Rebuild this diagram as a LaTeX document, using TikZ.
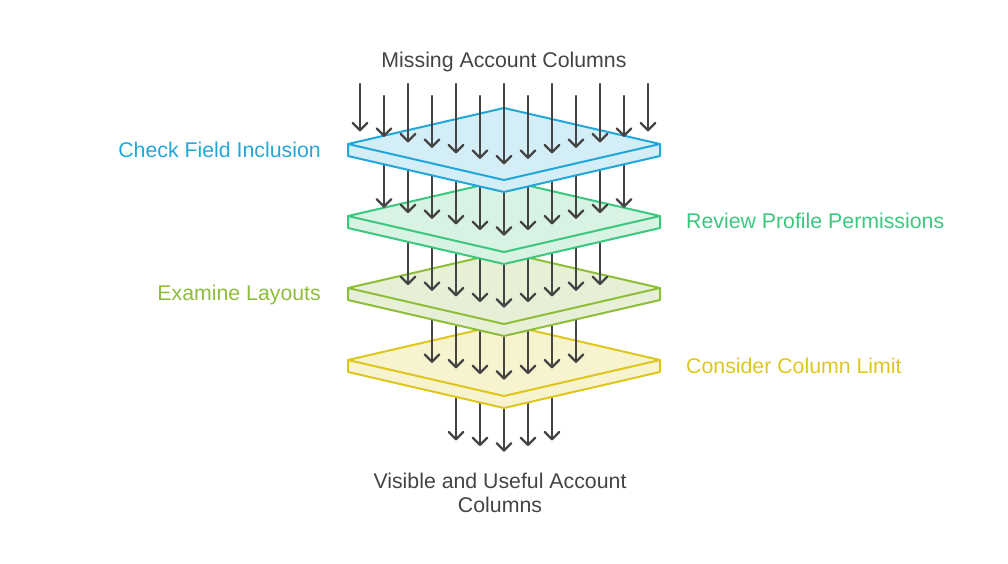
\documentclass[tikz,border=0pt]{standalone}
\usepackage{fontspec}
\setmainfont{Liberation Sans}
\definecolor{ink}{HTML}{444444}
\definecolor{bstroke}{HTML}{22A7DA}
\definecolor{bfill}{HTML}{D4EEF8}
\definecolor{gstroke}{HTML}{3CC77E}
\definecolor{gfill}{HTML}{D8F2E3}
\definecolor{ostroke}{HTML}{8DBE3A}
\definecolor{ofill}{HTML}{E7F0D6}
\definecolor{ystroke}{HTML}{DEC71C}
\definecolor{yfill}{HTML}{F8F3CF}
\tikzset{
  layerline/.style={line width=2bp, line join=round},
  flow/.style={draw=ink, line width=2.3bp, line cap=round, line join=round},
  lbl/.style={font=\fontsize{21.3bp}{24bp}\selectfont, inner sep=0pt},
}
\newcommand{\mylayer}[3]{%
  \filldraw[layerline, draw=#2, fill=#3] (348,#1) -- (504,#1-36) -- (660,#1) -- (660,#1+12) -- (504,#1+48) -- (348,#1+12) -- cycle;
  \draw[layerline, draw=#2] (348,#1) -- (504,#1+36) -- (660,#1);
}
\newcommand{\myarrow}[3]{%
  \draw[flow] (#1,#2) -- (#1,#3);
  \draw[flow] (#1-7.3,#3-7.3) -- (#1,#3) -- (#1+7.3,#3-7.3);
}
\begin{document}
\begin{tikzpicture}[x=1bp,y=-1bp]
\useasboundingbox (0,0) rectangle (1008,564);
% exit arrows
\foreach \k in {-2,...,2}{
  \pgfmathsetmacro\xx{504+24*\k}
  \pgfmathsetmacro\ty{162.5+288-5.6*abs(\k)}
  \myarrow{\xx}{360}{\ty}
}
\mylayer{360}{ystroke}{yfill}
\foreach \k in {-3,...,3}{
  \pgfmathsetmacro\xx{504+24*\k}
  \pgfmathsetmacro\ty{162.5+216-5.6*abs(\k)}
  \myarrow{\xx}{288}{\ty}
}
\mylayer{288}{ostroke}{ofill}
\foreach \k in {-4,...,4}{
  \pgfmathsetmacro\xx{504+24*\k}
  \pgfmathsetmacro\ty{162.5+144-5.6*abs(\k)}
  \myarrow{\xx}{216}{\ty}
}
\mylayer{216}{gstroke}{gfill}
\foreach \k in {-5,...,5}{
  \pgfmathsetmacro\xx{504+24*\k}
  \pgfmathsetmacro\ty{162.5+72-5.6*abs(\k)}
  \myarrow{\xx}{144}{\ty}
}
\mylayer{144}{bstroke}{bfill}
\foreach \k in {-6,...,6}{
  \pgfmathsetmacro\xx{504+24*\k}
  \pgfmathsetmacro\ty{163.3-5.5*abs(\k)}
  \pgfmathsetmacro\sy{ifthenelse(mod(abs(\k),2)==0,84,96)}
  \myarrow{\xx}{\sy}{\ty}
}
% labels
\node[lbl, text=ink, anchor=base] (top) at (504,68) {Missing Account Columns};
\node[lbl, text=ink, anchor=base, align=center] (bottom) at (500,512) {Visible and Useful Account\\Columns};
\node[lbl, text=bstroke, anchor=base east] (l1) at (321,158) {Check Field Inclusion};
\node[lbl, text=gstroke, anchor=base west] (l2) at (686,229) {Review Profile Permissions};
\node[lbl, text=ostroke, anchor=base east] (l3) at (321,301) {Examine Layouts};
\node[lbl, text=ystroke, anchor=base west] (l4) at (686,373) {Consider Column Limit};
\end{tikzpicture}
\end{document}
